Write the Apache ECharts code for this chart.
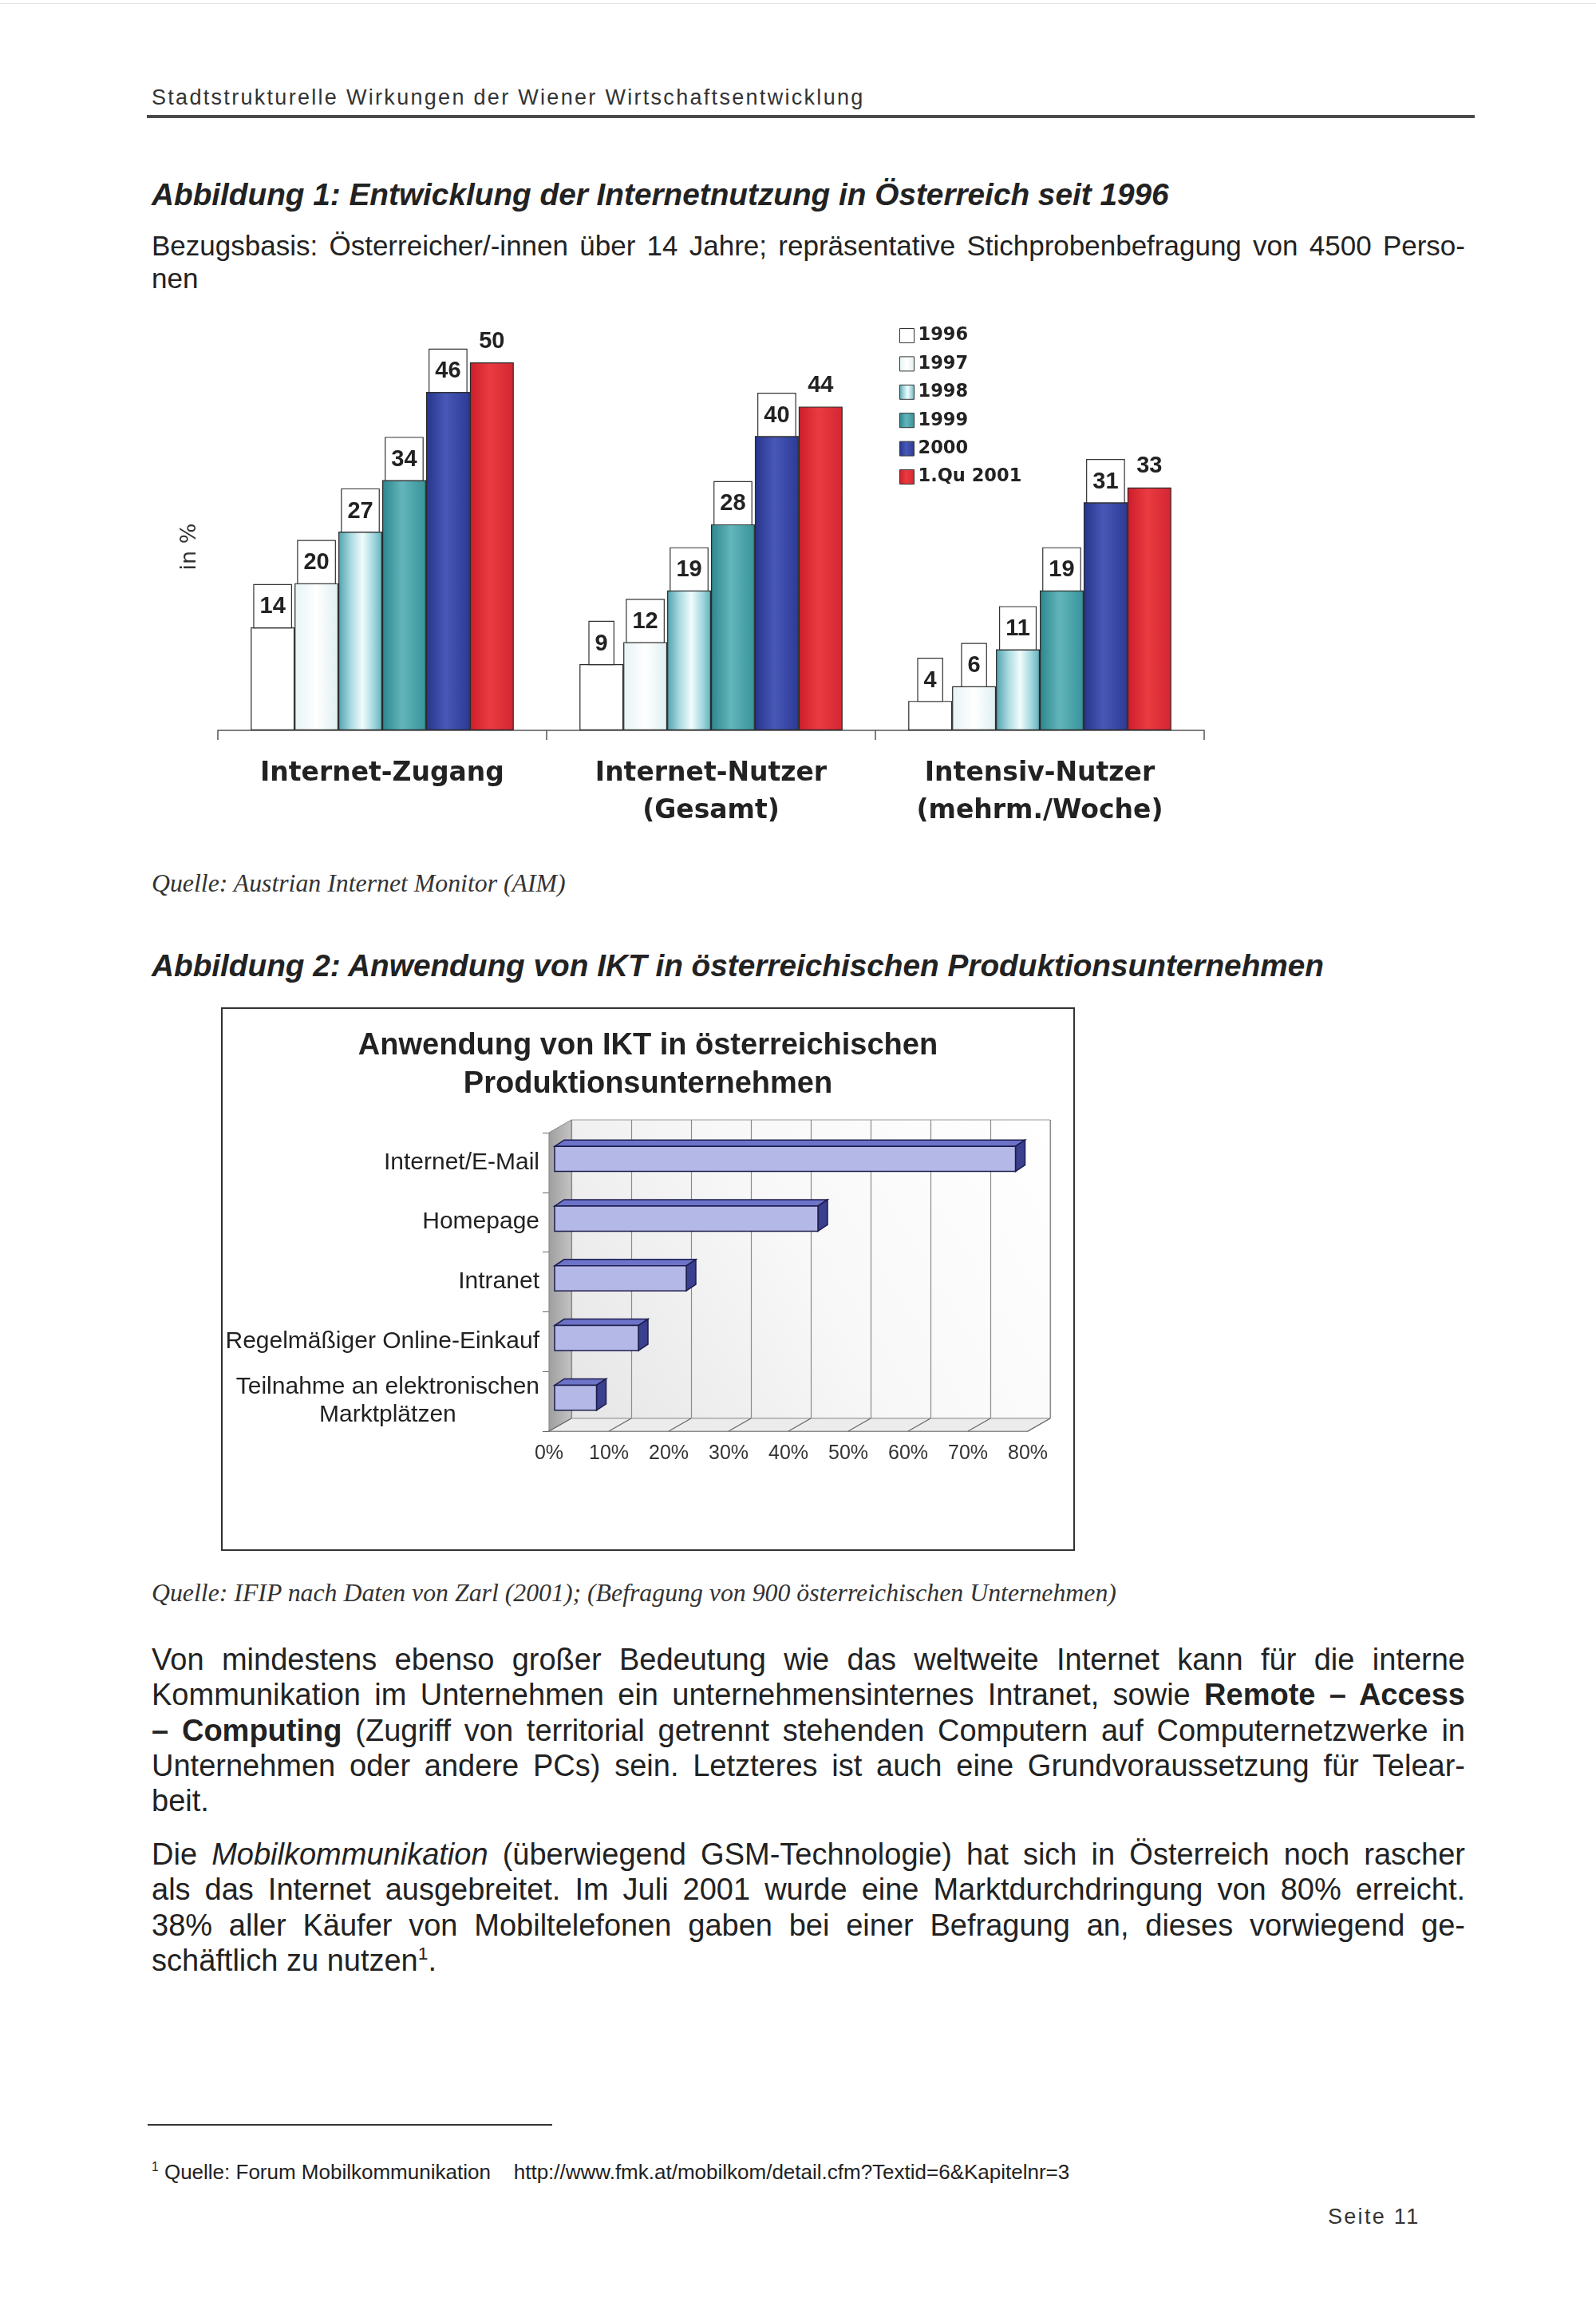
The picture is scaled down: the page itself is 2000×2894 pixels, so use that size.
<!DOCTYPE html>
<html><head><meta charset="utf-8">
<script src="https://cdn.jsdelivr.net/npm/echarts@6/dist/echarts.min.js"></script>
<style>
html,body{margin:0;padding:0;background:#fff;}
body{width:2000px;height:2894px;position:relative;overflow:hidden;font-family:"Liberation Sans",Arial,sans-serif;color:#222;}
.abs{position:absolute;}
.topline{left:0;top:4px;width:2000px;height:1px;background:#e4e4e4;}
.hdr{left:190px;top:106px;font-size:27px;line-height:32px;letter-spacing:2.3px;color:#333;white-space:nowrap;}
.rule{left:184px;top:144px;width:1664px;height:4px;background:#4a4a4a;}
.ftitle{left:190px;font-size:38.75px;line-height:46px;font-weight:bold;font-style:italic;white-space:nowrap;color:#222;}
.sub{left:190px;width:1646px;font-size:35px;line-height:40.6px;color:#222;}
.jl{text-align:justify;text-align-last:justify;}
.src{left:190px;font-family:"Liberation Serif","Times New Roman",serif;font-style:italic;font-size:31.8px;line-height:36px;color:#333;white-space:nowrap;}
.body{left:190px;width:1646px;font-size:38px;line-height:44.3px;color:#222;}
.fnrule{left:185px;top:2661px;width:507px;height:2px;background:#333;}
.fn{left:190px;top:2706px;font-size:26px;line-height:30px;white-space:nowrap;color:#222;}
.page{left:1664px;top:2762px;font-size:27px;line-height:30px;letter-spacing:2.3px;white-space:nowrap;color:#333;}
sup{font-size:0.6em;vertical-align:super;line-height:0;}
#c1{left:0;top:380px;width:2000px;height:700px;}
#c2{left:277px;top:1262px;width:1070px;height:681px;}
#c2b{left:277px;top:1262px;width:1070px;height:681px;box-sizing:border-box;border:2px solid #333;pointer-events:none;}
</style></head>
<body>
<div class="abs topline"></div>
<div class="abs hdr">Stadtstrukturelle Wirkungen der Wiener Wirtschaftsentwicklung</div>
<div class="abs rule"></div>
<div class="abs ftitle" style="top:221px;">Abbildung 1: Entwicklung der Internetnutzung in Österreich seit 1996</div>
<div class="abs sub" style="top:288px;">
 <div class="jl">Bezugsbasis: Österreicher/-innen über 14 Jahre; repräsentative Stichprobenbefragung von 4500 Perso-</div>
 <div>nen</div>
</div>
<div class="abs" id="c1"></div>
<div class="abs src" style="top:1089px;">Quelle: Austrian Internet Monitor (AIM)</div>
<div class="abs ftitle" style="top:1187px;">Abbildung 2: Anwendung von IKT in österreichischen Produktionsunternehmen</div>
<div class="abs" id="c2"></div>
<div class="abs" id="c2b"></div>
<div class="abs src" style="top:1978px;">Quelle: IFIP nach Daten von Zarl (2001); (Befragung von 900 österreichischen Unternehmen)</div>
<div class="abs body" style="top:2057px;">
 <div class="jl">Von mindestens ebenso großer Bedeutung wie das weltweite Internet kann für die interne</div>
 <div class="jl">Kommunikation im Unternehmen ein unternehmensinternes Intranet, sowie <b>Remote – Access</b></div>
 <div class="jl"><b>– Computing</b> (Zugriff von territorial getrennt stehenden Computern auf Computernetzwerke in</div>
 <div class="jl">Unternehmen oder andere PCs) sein. Letzteres ist auch eine Grundvoraussetzung für Telear-</div>
 <div>beit.</div>
</div>
<div class="abs body" style="top:2301px;">
 <div class="jl">Die <i>Mobilkommunikation</i> (überwiegend GSM-Technologie) hat sich in Österreich noch rascher</div>
 <div class="jl">als das Internet ausgebreitet. Im Juli 2001 wurde eine Marktdurchdringung von 80% erreicht.</div>
 <div class="jl">38% aller Käufer von Mobiltelefonen gaben bei einer Befragung an, dieses vorwiegend ge-</div>
 <div>schäftlich zu nutzen<sup>1</sup>.</div>
</div>
<div class="abs fnrule"></div>
<div class="abs fn"><sup>1</sup> Quelle: Forum Mobilkommunikation&nbsp;&nbsp;&nbsp; http://www.fmk.at/mobilkom/detail.cfm?Textid=6&amp;Kapitelnr=3</div>
<div class="abs page">Seite 11</div>

<script>
// ---------- Data: Abbildung 1 ----------
const categories = ['Internet-Zugang', 'Internet-Nutzer\n(Gesamt)', 'Intensiv-Nutzer\n(mehrm./Woche)'];
const years = ['1996', '1997', '1998', '1999', '2000', '1.Qu 2001'];
const values1996 = [14, 9, 4];
const values1997 = [20, 12, 6];
const values1998 = [27, 19, 11];
const values1999 = [34, 28, 19];
const values2000 = [46, 40, 31];
const values2001 = [50, 44, 33];

// ---------- Data: Abbildung 2 ----------
const ictCategories = ['Internet/E-Mail', 'Homepage', 'Intranet', 'Regelmäßiger Online-Einkauf', 'Teilnahme an elektronischen\nMarktplätzen'];
const ictValues = [77, 44, 22, 14, 7];
const ictTicks = [0, 10, 20, 30, 40, 50, 60, 70, 80];

function hgrad(stops) {
  return new echarts.graphic.LinearGradient(0, 0, 1, 0, stops.map(s => ({offset: s[0], color: s[1]})));
}

// ---------- Chart 1 ----------
const c1 = echarts.init(document.getElementById('c1'), null, {renderer: 'canvas'});
const seriesValues = [values1996, values1997, values1998, values1999, values2000, values2001];
const fills = [
  '#ffffff',
  hgrad([[0, '#e6f3f5'], [0.5, '#ffffff'], [1, '#dfeff1']]),
  hgrad([[0, '#4fa1ad'], [0.28, '#a9dae0'], [0.55, '#f2fcfd'], [0.8, '#a3d8df'], [1, '#62b0ba']]),
  hgrad([[0, '#2d858d'], [0.45, '#62b6bb'], [1, '#37939a']]),
  hgrad([[0, '#26348c'], [0.45, '#4858b6'], [1, '#2c3a96']]),
  hgrad([[0, '#cc1e2b'], [0.45, '#ea3b41'], [1, '#d42632']])
];
const boxLabel = {
  show: true, position: 'top', distance: 0,
  fontFamily: 'Liberation Sans', fontWeight: 'bold', fontSize: 29, color: '#222',
  backgroundColor: '#fff', borderColor: '#333', borderWidth: 1.2, padding: [13, 7, 11, 7]
};
const plainLabel = {
  show: true, position: 'top', distance: 12,
  fontFamily: 'Liberation Sans', fontWeight: 'bold', fontSize: 29, color: '#222'
};
c1.setOption({
  animation: false,
  legend: {
    orient: 'vertical', left: 1122, top: 24, itemWidth: 18, itemHeight: 18, itemGap: 12.4,
    icon: 'rect', selectedMode: false,
    textStyle: {fontFamily: 'DejaVu Sans', fontWeight: 'bold', fontSize: 22.5, color: '#222', lineHeight: 22},
    itemStyle: {borderColor: '#333', borderWidth: 1},
    data: years
  },
  grid: {left: 273, right: 491, top: 28, bottom: 165, outerBoundsMode: 'none'},
  xAxis: {
    type: 'category', data: categories,
    axisLine: {lineStyle: {color: '#555', width: 1.5}},
    axisTick: {show: true, length: 12, lineStyle: {color: '#555', width: 1.5}},
    axisLabel: {interval: 0, margin: 31, fontFamily: 'DejaVu Sans', fontWeight: 'bold', fontSize: 33, lineHeight: 47, color: '#222'}
  },
  yAxis: {
    type: 'value', min: 0, max: 55,
    axisLine: {show: false}, axisTick: {show: false}, axisLabel: {show: false}, splitLine: {show: false}
  },
  graphic: [{
    type: 'text', x: 238, y: 305, rotation: Math.PI / 2,
    style: {text: 'in %', fontSize: 27, fontFamily: 'DejaVu Sans', fill: '#333', align: 'center', verticalAlign: 'middle'}
  }],
  series: years.map((y, i) => ({
    name: y, type: 'bar', data: seriesValues[i],
    barGap: '0%', barCategoryGap: '20%',
    itemStyle: {color: fills[i], borderColor: '#2a2a2a', borderWidth: 1.2},
    label: i < 5 ? boxLabel : plainLabel
  }))
});

// ---------- Chart 2 ----------
const c2 = echarts.init(document.getElementById('c2'), null, {renderer: 'canvas'});
const DX = 28, DY = 16;
c2.setOption({
  animation: false,
  title: {
    text: 'Anwendung von IKT in österreichischen\nProduktionsunternehmen',
    left: 'center', top: 20,
    textStyle: {fontFamily: 'Liberation Sans', fontWeight: 'bold', fontSize: 38, lineHeight: 48, color: '#222'}
  },
  grid: [
    {left: 411, right: 59, top: 157, bottom: 150, outerBoundsMode: 'none'},
    {left: 411 + DX, right: 59 - DX, top: 157 - DY, bottom: 150 + DY, outerBoundsMode: 'none',
     show: true, borderColor: '#9a9a9a', borderWidth: 1,
     backgroundColor: new echarts.graphic.LinearGradient(0, 1, 1, 0, [
       {offset: 0, color: '#e6e6e6'}, {offset: 0.5, color: '#f8f8f8'}, {offset: 1, color: '#ffffff'}])}
  ],
  xAxis: [
    {gridIndex: 0, type: 'value', min: ictTicks[0], max: ictTicks[ictTicks.length - 1], interval: ictTicks[1] - ictTicks[0],
     axisLine: {show: true, lineStyle: {color: '#555', width: 1.5}}, axisTick: {show: false},
     splitLine: {show: false},
     axisLabel: {formatter: '{value}%', margin: 16, fontFamily: 'Liberation Sans', fontSize: 25, color: '#333'}},
    {gridIndex: 1, type: 'value', min: ictTicks[0], max: ictTicks[ictTicks.length - 1], interval: ictTicks[1] - ictTicks[0],
     axisLine: {show: false}, axisTick: {show: false}, axisLabel: {show: false},
     splitLine: {show: true, lineStyle: {color: '#8c8c8c', width: 1.2}}}
  ],
  yAxis: [
    {gridIndex: 0, type: 'category', data: ictCategories, inverse: true,
     axisLine: {show: true, lineStyle: {color: '#666', width: 1.2}},
     axisTick: {show: true, length: 8, lineStyle: {color: '#666'}},
     axisLabel: {
       interval: 0, margin: 12, align: 'right',
       formatter: v => v.split('\n').map(s => '{c|' + s + '}').join('\n'),
       rich: {c: {align: 'center', fontFamily: 'Liberation Sans', fontSize: 30, lineHeight: 35, color: '#222'}}
     }},
    {gridIndex: 1, type: 'category', data: ictCategories, inverse: true, show: false}
  ],
  series: [
    {
      type: 'custom', name: 'walls', xAxisIndex: 0, yAxisIndex: 0, z: 1, silent: true,
      data: ictTicks.map(v => [v, 0]),
      encode: {x: 0, y: 1},
      renderItem: function (params, api) {
        const cs = params.coordSys;
        const x = api.coord([api.value(0), 0])[0];
        const yb = cs.y + cs.height;
        const ch = [];
        if (params.dataIndex === 0) {
          ch.push({type: 'polygon',
            shape: {points: [[cs.x, cs.y], [cs.x + DX, cs.y - DY], [cs.x + DX, yb - DY], [cs.x, yb]]},
            style: {fill: new echarts.graphic.LinearGradient(0, 0, 1, 0, [{offset: 0, color: '#9e9e9e'}, {offset: 1, color: '#c4c4c4'}]), stroke: '#888', lineWidth: 1}});
          ch.push({type: 'polygon',
            shape: {points: [[cs.x, yb], [cs.x + cs.width, yb], [cs.x + cs.width + DX, yb - DY], [cs.x + DX, yb - DY]]},
            style: {fill: '#ececec', stroke: '#999', lineWidth: 1}});
        }
        ch.push({type: 'line', shape: {x1: x, y1: yb, x2: x + DX, y2: yb - DY}, style: {stroke: '#666', lineWidth: 1.2}});
        return {type: 'group', children: ch};
      }
    },
    {
      type: 'custom', name: 'IKT', xAxisIndex: 0, yAxisIndex: 0, z: 3,
      data: ictValues.map((v, i) => [v, i]),
      encode: {x: 0, y: 1},
      renderItem: function (params, api) {
        const v = api.value(0), c = api.value(1);
        const p0 = api.coord([0, c]), p1 = api.coord([v, c]);
        const h = api.size([0, 1])[1] * 0.42;
        const x0 = p0[0] + 7, x1 = p1[0] + 7, yc = p0[1] - 4.5;
        const yt = yc - h / 2, yb = yc + h / 2;
        const dd = 12, dv = 8;
        const st = '#1d1d4d';
        return {type: 'group', children: [
          {type: 'polygon', shape: {points: [[x0, yt], [x1, yt], [x1 + dd, yt - dv], [x0 + dd, yt - dv]]}, style: {fill: '#6c73c8', stroke: st, lineWidth: 1.5}},
          {type: 'polygon', shape: {points: [[x1, yt], [x1 + dd, yt - dv], [x1 + dd, yb - dv], [x1, yb]]}, style: {fill: '#3a3f8e', stroke: st, lineWidth: 1.5}},
          {type: 'rect', shape: {x: x0, y: yt, width: x1 - x0, height: h}, style: {fill: '#b4b8e6', stroke: st, lineWidth: 1.5}}
        ]};
      }
    }
  ]
});
</script>
</body></html>
